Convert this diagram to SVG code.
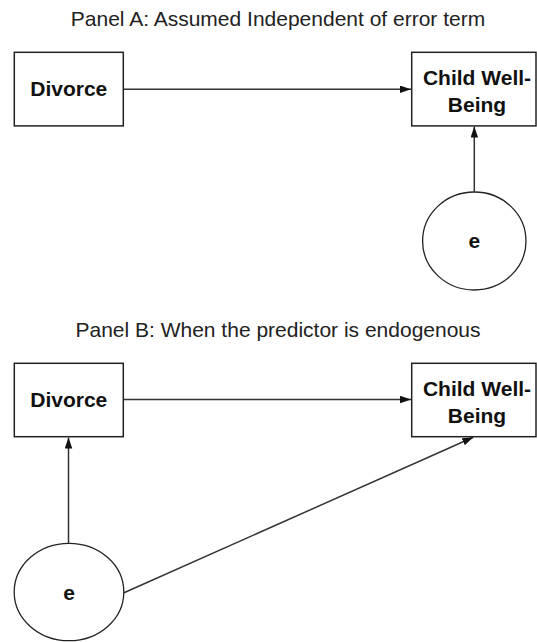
<svg xmlns="http://www.w3.org/2000/svg" width="537" height="642" viewBox="0 0 537 642">
<defs>
<style>
.title{font-family:"Liberation Sans",Arial,sans-serif;font-size:21px;fill:#222;text-anchor:middle}
.lbl{font-family:"Liberation Sans",Arial,sans-serif;font-size:21px;font-weight:bold;fill:#111;text-anchor:middle}
.box{fill:#fff;stroke:#222;stroke-width:1.5}
.circ{fill:#fff;stroke:#222;stroke-width:1.3}
.edge{fill:none;stroke:#333;stroke-width:1.5}
</style>
<marker id="arr" markerUnits="userSpaceOnUse" markerWidth="12" markerHeight="8" refX="11" refY="3.75" orient="auto">
<path d="M0,0 L11,3.75 L0,7.5 z" fill="#111"/>
</marker>
</defs>
<rect width="537" height="642" fill="#fff"/>
<text class="title" x="278" y="25.5">Panel A: Assumed Independent of error term</text>
<text class="title" x="278" y="337">Panel B: When the predictor is endogenous</text>
<g id="connectors">
<line class="edge" x1="123.3" y1="89.3" x2="411" y2="89.3" marker-end="url(#arr)"/>
<line class="edge" x1="474.3" y1="191.7" x2="474.3" y2="126.5" marker-end="url(#arr)"/>
<line class="edge" x1="123.3" y1="399.5" x2="411" y2="399.5" marker-end="url(#arr)"/>
<line class="edge" x1="68.5" y1="543.3" x2="68.5" y2="437.5" marker-end="url(#arr)"/>
<line class="edge" x1="124" y1="592.7" x2="473.3" y2="437.3" marker-end="url(#arr)"/>
</g>
<g id="a-divorce">
<rect class="box" x="14.3" y="52.3" width="109" height="73.6"/>
<text class="lbl" x="68.8" y="96">Divorce</text>
</g>
<g id="a-child">
<rect class="box" x="411.7" y="52.3" width="124.3" height="73.6"/>
<text class="lbl" x="477" y="84.5">Child Well-</text>
<text class="lbl" x="477" y="112">Being</text>
</g>
<g id="a-e">
<ellipse class="circ" cx="474.3" cy="241" rx="51.7" ry="49"/>
<text class="lbl" x="474.3" y="248">e</text>
</g>
<g id="b-divorce">
<rect class="box" x="14.3" y="363.3" width="109" height="73.4"/>
<text class="lbl" x="68.8" y="407.3">Divorce</text>
</g>
<g id="b-child">
<rect class="box" x="411.7" y="363.3" width="124.3" height="73.4"/>
<text class="lbl" x="477" y="395.5">Child Well-</text>
<text class="lbl" x="477" y="423">Being</text>
</g>
<g id="b-e">
<ellipse class="circ" cx="69" cy="592" rx="54.8" ry="48.7"/>
<text class="lbl" x="69" y="599.5">e</text>
</g>
</svg>
